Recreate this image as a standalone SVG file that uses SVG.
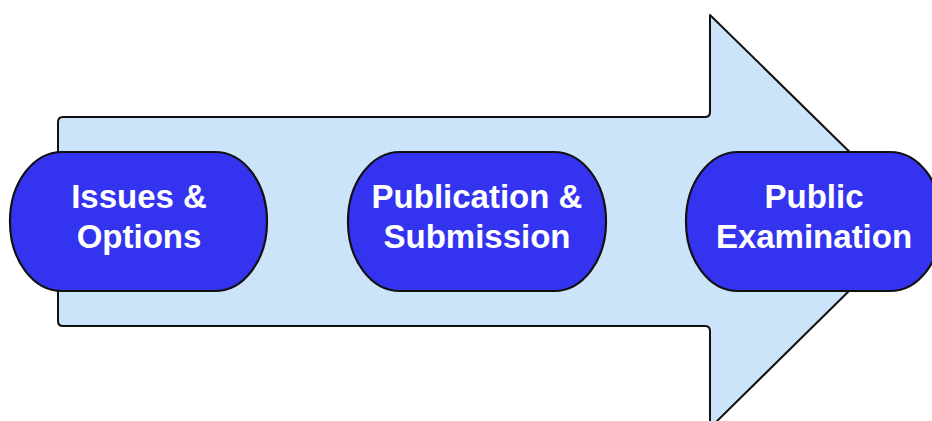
<svg xmlns="http://www.w3.org/2000/svg" width="932" height="421" viewBox="0 0 932 421">
<style>
.pill{fill:#3434f0;stroke:#111;stroke-width:2.2}
.lbl{font-family:"Liberation Sans",Arial,sans-serif;font-weight:bold;font-size:33px;fill:#fff;text-anchor:middle}
</style>
<rect width="932" height="421" fill="#fff"/>
<g id="arrow">
<path d="M63,117 L705,117 Q710,117 710,112 L710,15 L920,221 L710,428 L710,331 Q710,326 705,326 L63,326 Q58,326 58,321 L58,122 Q58,117 63,117 Z" fill="#cce4fa" stroke="#111" stroke-width="2" stroke-linejoin="round"/>
</g>
<g id="connectors"></g>
<g id="node1">
<rect class="pill" x="10" y="152" width="257" height="139" rx="52" ry="69"/>
<text class="lbl" x="139" y="208">Issues &amp;</text>
<text class="lbl" x="139" y="248">Options</text>
</g>
<g id="node2">
<rect class="pill" x="348" y="152" width="258" height="139" rx="52" ry="69"/>
<text class="lbl" x="477" y="208">Publication &amp;</text>
<text class="lbl" x="477" y="248">Submission</text>
</g>
<g id="node3">
<rect class="pill" x="686" y="152" width="256" height="139" rx="52" ry="69"/>
<text class="lbl" x="814" y="208">Public</text>
<text class="lbl" x="814" y="248">Examination</text>
</g>
</svg>
